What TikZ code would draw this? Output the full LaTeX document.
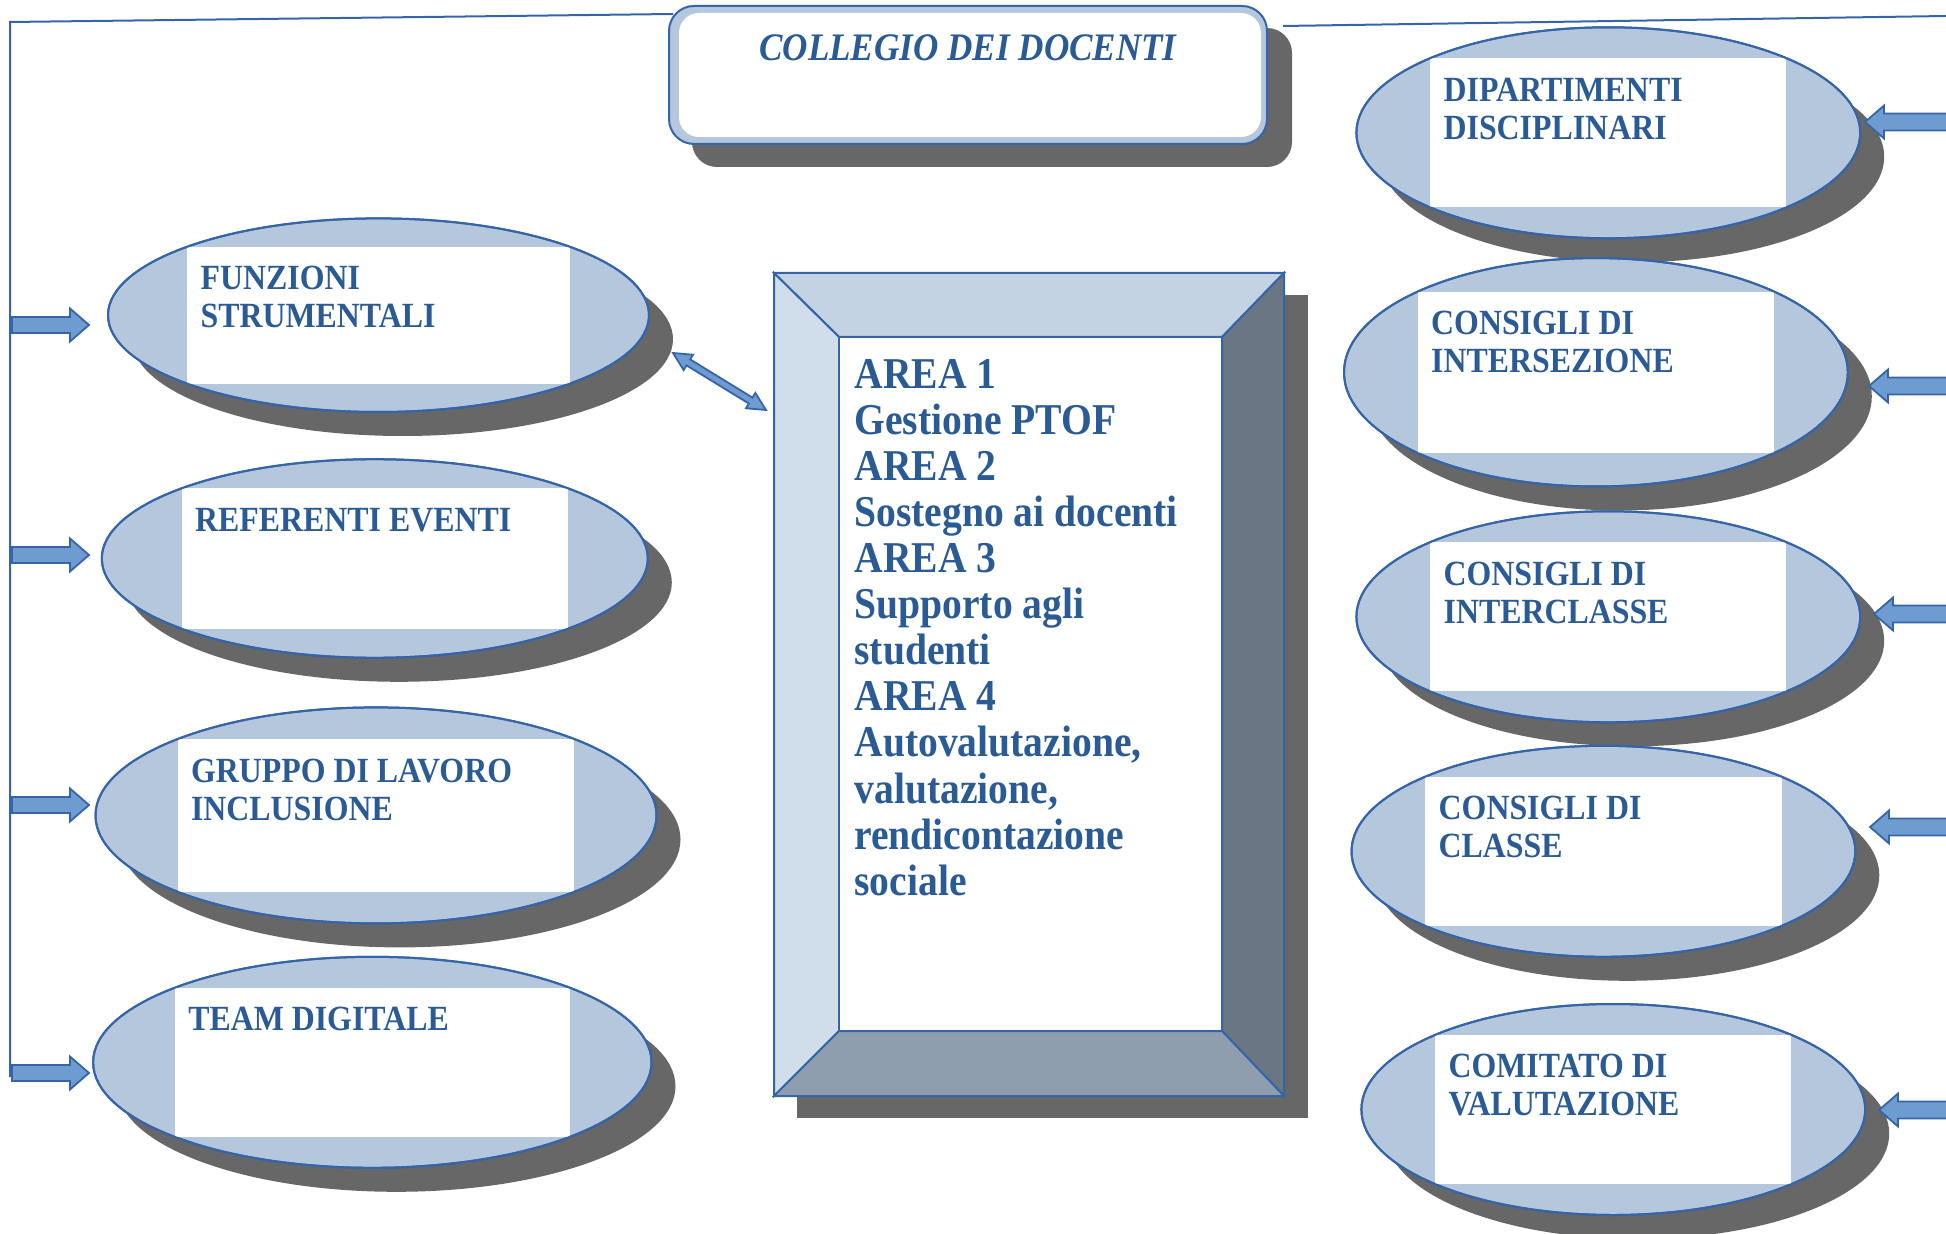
\documentclass[tikz,border=0pt]{standalone}
\usepackage{fontspec}
\setmainfont{Liberation Serif}[FakeStretch=0.9]
\usetikzlibrary{shapes.geometric,calc}
\definecolor{bfill}{HTML}{B4C7DC}
\definecolor{bline}{HTML}{3565A8}
\definecolor{btext}{HTML}{2B5B95}
\definecolor{shad}{HTML}{676767}
\definecolor{afill}{HTML}{6E9BD0}
\definecolor{ftop}{HTML}{C3D3E3}
\definecolor{fleft}{HTML}{D0DEEB}
\definecolor{fright}{HTML}{6A7683}
\definecolor{fbot}{HTML}{8F9EAE}
\newcommand{\mylines}[1]{\begin{tabular}[t]{@{}l@{}}#1\end{tabular}}
\tikzset{
  bubble/.style={ellipse, inner sep=0, outer sep=0, draw=bline, line width=1pt, fill=bfill},
  bubshadow/.style={ellipse, inner sep=0, outer sep=0, fill=shad},
  labeltext/.style={anchor=base west, inner sep=0, text=btext, font=\fontsize{17.7}{19}\selectfont\bfseries},
  blockarrow/.style={draw=bline, line width=0.9pt, fill=afill, line join=miter},
  conn/.style={draw=bline, line width=1pt},
  face/.style={draw=bline, line width=1pt, line join=miter},
}
% \bubble{name}{cx}{cy}{rx}{ry}{text}   (pixel units)
\newcommand{\bubble}[6]{%
  \node[bubshadow, minimum width=#4pt, minimum height=#5pt] (#1s) at (#2+24,#3+24) {};
  \node[bubble, minimum width=#4pt, minimum height=#5pt] (#1) at (#2,#3) {};
  \fill[white] (#2-0.707*#4,#3-0.707*#5) rectangle (#2+0.707*#4,#3+0.707*#5);
  \draw[bline, line width=1pt] (#1.center) ellipse [x radius={#4*0.5pt}, y radius={#5*0.5pt}];
  \node[labeltext] (#1t) at (#2-0.707*#4+13,#3-0.707*#5+43) {\mylines{#6}};
}
\begin{document}
\begin{tikzpicture}[x=0.5pt,y=-0.5pt]
\useasboundingbox (0,0) rectangle (1946,1234);

% ---------- left bubbles ----------
\bubble{funz}{378.5}{315.2}{270.5}{96.8}{FUNZIONI\\STRUMENTALI}
\bubble{refe}{374.8}{558.5}{273}{99.3}{REFERENTI EVENTI}
\bubble{grup}{376}{815.4}{280.5}{108}{GRUPPO DI LAVORO\\INCLUSIONE}
\bubble{team}{372.3}{1062.3}{279.2}{105.5}{TEAM DIGITALE}

% ---------- right bubbles ----------
\bubble{dipa}{1608.3}{132.8}{251.9}{105.5}{DIPARTIMENTI\\DISCIPLINARI}
\bubble{inse}{1595.9}{372.3}{251.9}{114.2}{CONSIGLI DI\\INTERSEZIONE}
\bubble{incl}{1608.3}{616.8}{251.9}{105.5}{CONSIGLI DI\\INTERCLASSE}
\bubble{clas}{1603.4}{851.3}{251.9}{105.5}{CONSIGLI DI\\CLASSE}
\bubble{comi}{1613.3}{1109.5}{251.9}{105.5}{COMITATO DI\\VALUTAZIONE}

% ---------- collegio ----------
\fill[shad, rounded corners=12.5pt] (692,28) rectangle (1292,167);
\node[draw=bline, line width=1pt, fill=bfill, rounded corners=12.5pt,
      minimum width=299pt, minimum height=69pt, inner sep=0, outer sep=0] (collegio) at (968,75) {};
\fill[white, rounded corners=10pt] (679,13) rectangle (1261,137);
\node[anchor=base, inner sep=0, text=btext, font=\fontsize{19.5}{22}\selectfont\bfseries\itshape]
      (title) at (968,61) {COLLEGIO DEI DOCENTI};

% ---------- connecting lines ----------
\coordinate (lbot) at (10,1077);
\coordinate (ltop) at (10,22);
\coordinate (cl) at (673,14);
\coordinate (cr) at (1283,26);
\coordinate (redge) at (1946,16);
\draw[conn] (lbot) -- (ltop) -- (cl);
\draw[conn] (cr) -- (redge);

% ---------- central bevel box ----------
\fill[shad] (797,295) rectangle (1308,1118);
\node[inner sep=0, outer sep=0, minimum width=255pt, minimum height=411.5pt] (areas) at (1029,684.5) {};
\coordinate (o1) at (774,273);
\coordinate (o2) at (1284,273);
\coordinate (o3) at (1284,1096);
\coordinate (o4) at (774,1096);
\coordinate (i1) at (839,337);
\coordinate (i2) at (1222,337);
\coordinate (i3) at (1222,1031);
\coordinate (i4) at (839,1031);
\filldraw[face, fill=ftop] (o1) -- (o2) -- (i2) -- (i1) -- cycle;
\filldraw[face, fill=fleft] (o1) -- (i1) -- (i4) -- (o4) -- cycle;
\filldraw[face, fill=fright] (o2) -- (o3) -- (i3) -- (i2) -- cycle;
\filldraw[face, fill=fbot] (o4) -- (i4) -- (i3) -- (o3) -- cycle;
\filldraw[face, fill=white] (i1) rectangle (i3);
\draw[face] (o1) rectangle (o3);
\node[anchor=base west, inner sep=0, text=btext, font=\fontsize{22}{23}\selectfont\bfseries]
  (areatext) at (854,389) {\mylines{AREA 1\\Gestione PTOF\\AREA 2\\Sostegno ai docenti\\AREA 3\\Supporto agli\\studenti\\AREA 4\\Autovalutazione,\\valutazione,\\rendicontazione\\sociale}};

% ---------- double arrow funzioni <-> areas ----------
\coordinate (da1) at (673,353);
\coordinate (da2) at (766,410);
\coordinate (h1) at ($(da1)!9pt!(da2)$);
\coordinate (h2) at ($(da2)!9pt!(da1)$);
\draw[blockarrow] (da1) -- ($(h1)!4.5pt!90:(da2)$) -- ($(h1)!1.75pt!90:(da2)$)
  -- ($(h2)!1.75pt!-90:(da1)$) -- ($(h2)!4.5pt!-90:(da1)$) -- (da2)
  -- ($(h2)!4.5pt!90:(da1)$) -- ($(h2)!1.75pt!90:(da1)$)
  -- ($(h1)!1.75pt!-90:(da2)$) -- ($(h1)!4.5pt!-90:(da2)$) -- cycle;

% ---------- left block arrows ----------
\coordinate (la1) at (89,325);
\coordinate (la2) at (89,555);
\coordinate (la3) at (89,805);
\coordinate (la4) at (89,1073);
\foreach \a in {la1,la2,la3,la4}{
  \draw[blockarrow, shift={(\a)}] (-77,-8) -- (-19,-8) -- (-19,-16.5) -- (0,0) -- (-19,16.5) -- (-19,8) -- (-77,8) -- cycle;
}

% ---------- right block arrows ----------
\coordinate (ra1) at (1865,122);
\coordinate (ra2) at (1869,386);
\coordinate (ra3) at (1874,614);
\coordinate (ra4) at (1870,827);
\coordinate (ra5) at (1879,1110);
\foreach \a in {ra1,ra2,ra3,ra4,ra5}{
  \draw[blockarrow, shift={(\a)}] (0,0) -- (19,-16.5) -- (19,-8.5) -- (100,-8.5) -- (100,8.5) -- (19,8.5) -- (19,16.5) -- cycle;
}
\end{tikzpicture}
\end{document}
